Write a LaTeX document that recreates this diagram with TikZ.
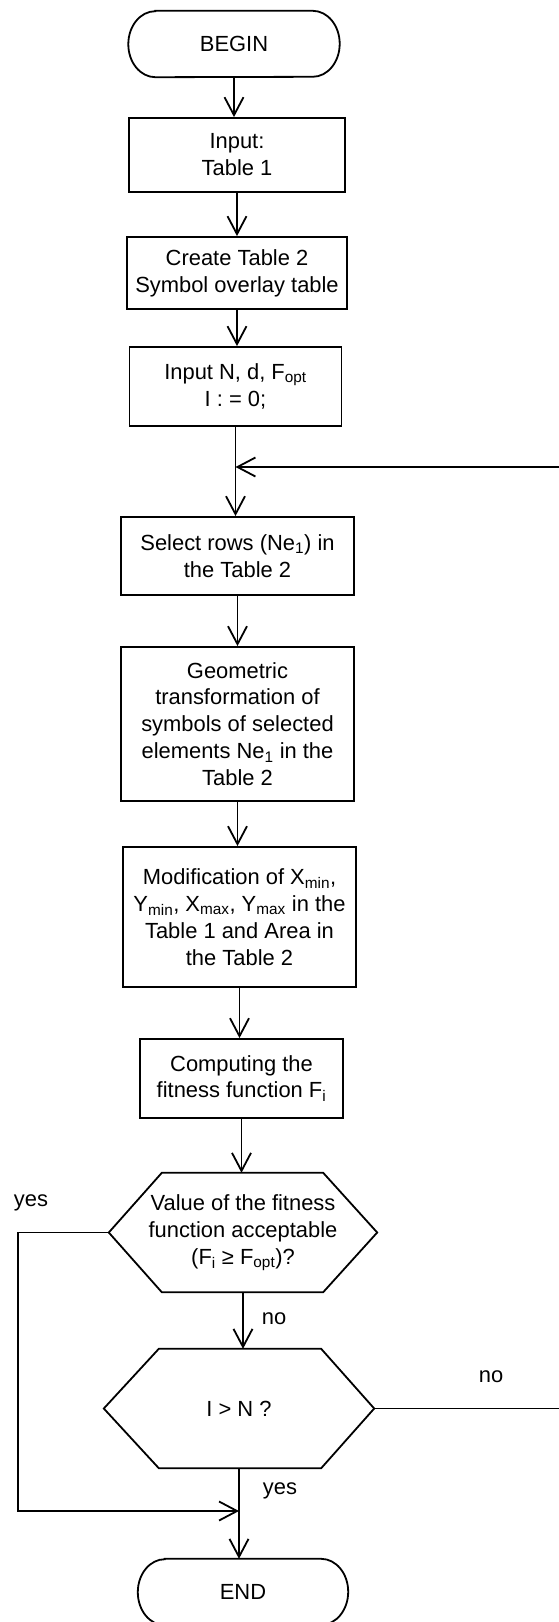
\documentclass[tikz,border=0pt]{standalone}
\usepackage{fontspec}
\setmainfont{Liberation Sans}
\usetikzlibrary{arrows.meta}
\tikzset{
  base/.style={font=\fontsize{22}{27}\selectfont, align=center, inner sep=0pt},
  line/.style={line width=1.8bp, draw=black},
  box/.style={base, rectangle, line},
  shapetext/.style={base, rectangle, draw=none},
  lbl/.style={font=\fontsize{22}{27}\selectfont, inner sep=0pt},
  arr/.style={line, -{Straight Barb[length=18bp,width=19bp]}}
}
\newcommand\drawterm[1]{%
  \draw[line] ([xshift=27bp]#1.north west) -- ([xshift=-27bp]#1.north east)
    arc[start angle=90,end angle=-90,x radius=27bp,y radius=33bp]
    -- ([xshift=27bp]#1.south west)
    arc[start angle=270,end angle=90,x radius=27bp,y radius=33bp] -- cycle;}
\newcommand\drawhex[3]{%
  \draw[line] (#1.west) -- ([xshift=#2]#1.north west) -- ([xshift=-#3]#1.north east)
    -- (#1.east) -- ([xshift=-#3]#1.south east) -- ([xshift=#2]#1.south west) -- cycle;}
\begin{document}
\begin{tikzpicture}[x=1bp,y=-1bp]
\useasboundingbox (0,0) rectangle (559,1622);
\node[shapetext, minimum width=211bp, minimum height=66bp] (begin) at (234,44) {BEGIN};
\drawterm{begin}
\node[box, minimum width=216bp, minimum height=74bp] (in1) at (237,155) {Input:\\Table 1};
\node[box, minimum width=220bp, minimum height=72bp] (create) at (237,273) {Create Table 2\\Symbol overlay table};
\node[box, minimum width=212bp, minimum height=79bp] (inN) at (235.5,386.5) {Input N, d, F\textsubscript{opt}\\I : = 0;};
\node[box, minimum width=233bp, minimum height=78bp] (select) at (237.5,556) {Select rows (Ne\textsubscript{1}) in\\the Table 2};
\node[box, minimum width=233bp, minimum height=154bp] (geom) at (237.5,724) {Geometric\\transformation of\\symbols of selected\\elements Ne\textsubscript{1} in the\\Table 2};
\node[box, minimum width=233bp, minimum height=140bp] (mod) at (239.5,917) {Modification of X\textsubscript{min},\\Y\textsubscript{min}, X\textsubscript{max}, Y\textsubscript{max} in the\\Table 1 and Area in\\the Table 2};
\node[box, minimum width=203bp, minimum height=79bp] (comp) at (241.5,1078.5) {Computing the\\fitness function F\textsubscript{i}};
\node[shapetext, minimum width=268bp, minimum height=119bp] (hex1) at (243,1232.5) {Value of the fitness\\function acceptable\\(F\textsubscript{i} ≥ F\textsubscript{opt})?};
\drawhex{hex1}{53bp}{54bp}
\node[shapetext, minimum width=270bp, minimum height=119bp] (hex2) at (239,1408.5) {I > N ?};
\drawhex{hex2}{55bp}{53bp}
\node[shapetext, minimum width=210bp, minimum height=66bp] (end) at (243,1592) {END};
\drawterm{end}

\coordinate (join) at (235.5,467);
\coordinate (rc) at (566,467);
\coordinate (lc) at (18,1511);
\coordinate (yjoin) at (239,1511);

\draw[arr] (begin.south) -- (begin.south |- in1.north);
\draw[arr] (in1.south) -- (in1.south |- create.north);
\draw[arr] (create.south) -- (create.south |- inN.north);
\draw[arr] (inN.south) -- (inN.south |- select.north);
\draw[arr] (select.south) -- (select.south |- geom.north);
\draw[arr] (geom.south) -- (geom.south |- mod.north);
\draw[arr] (mod.south) -- (mod.south |- comp.north);
\draw[arr] (comp.south) -- (comp.south |- hex1.north);
\draw[arr] (hex1.south) -- (hex1.south |- hex2.north);
\draw[arr] (hex2.south) -- (hex2.south |- end.north);
\draw[arr] (hex1.west) -| (lc) -- (yjoin);
\draw[arr] (hex2.east) -| (rc) -- (join);

\node[lbl] (lyes1) at (31,1203) {yes};
\node[lbl] (lno1) at (274,1319) {no};
\node[lbl] (lno2) at (491,1377) {no};
\node[lbl] (lyes2) at (280,1491) {yes};
\end{tikzpicture}
\end{document}
